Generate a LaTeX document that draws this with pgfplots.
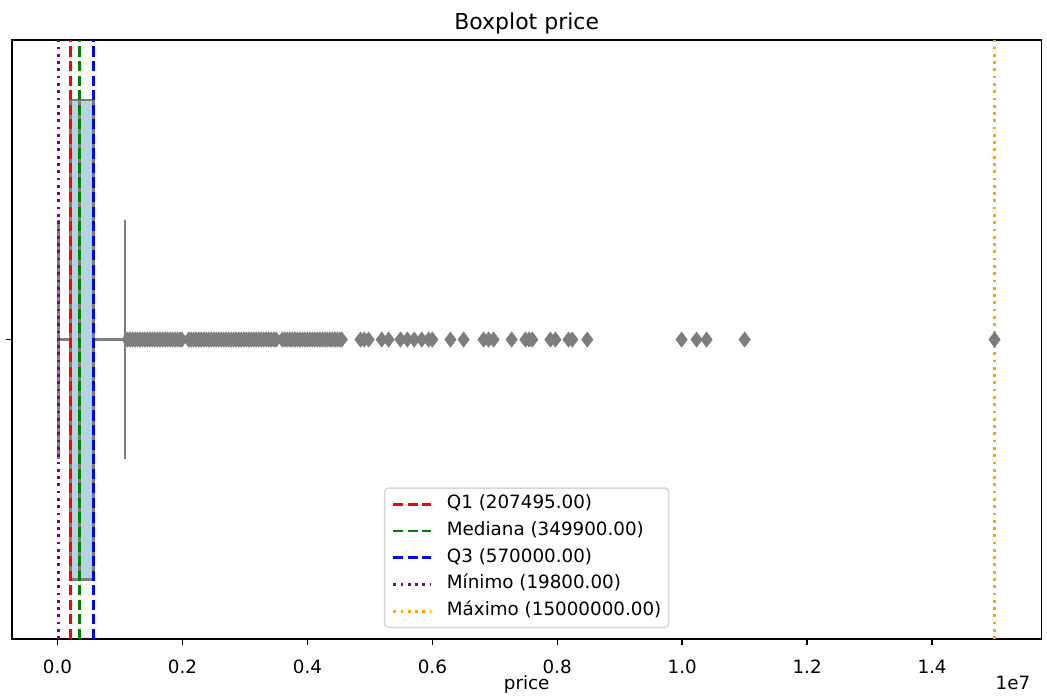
\documentclass[border=0pt]{standalone}
\usepackage{fontspec}
\setmainfont{DejaVu Sans}
\usepackage{pgfplots}
\pgfplotsset{compat=1.18}
\definecolor{boxfill}{RGB}{180,212,223}
\definecolor{boxgray}{RGB}{125,125,125}
\definecolor{mplpurple}{RGB}{128,0,128}
\definecolor{mplgreen}{RGB}{0,128,0}
\definecolor{mplorange}{RGB}{255,165,0}
\definecolor{legframe}{RGB}{214,214,214}
\begin{document}
\begin{tikzpicture}
\begin{axis}[
  name=ax,
  at={(0,0)}, anchor=south west,
  scale only axis, width=562pt, height=327pt,
  xmin=-0.72921, xmax=15.74901, ymin=-0.5, ymax=0.5,
  xtick={0,2,4,6,8,10,12,14},
  xticklabels={0.0,0.2,0.4,0.6,0.8,1.0,1.2,1.4},
  ytick={0}, yticklabels={},
  tick align=outside, tick pos=left,
  major tick length=3.5pt,
  every tick/.style={black, line width=0.8pt},
  axis line style={line width=0.8pt},
  font=\fontsize{10}{12}\selectfont,
  xticklabel style={anchor=base, yshift=-15.1pt, font=\fontsize{10}{12}\selectfont},
  title={Boxplot price},
  every axis title/.style={at={(0.5,1)}, anchor=base, yshift=6pt, font=\fontsize{12}{14}\selectfont},
  xlabel={price},
  every axis x label/.style={at={(0.5,0)}, anchor=base, yshift=-27.3pt, font=\fontsize{10}{12}\selectfont},
  legend cell align=left,
  legend image code/.code={\draw[#1] (0pt,0pt) -- (20.8pt,0pt);},
  legend style={at={(0.5,0.0184)}, anchor=south, draw=legframe, line width=0.8pt,
    rounded corners=2pt, fill=white, fill opacity=0.8, text opacity=1, draw opacity=1,
    font=\fontsize{10}{12}\selectfont,
    nodes={inner sep=0pt, text height=7.5pt, text depth=2.5pt},
    row sep=4.6pt, column sep=7.7pt, inner xsep=4pt, inner ysep=3.8pt},
]
% box
\addplot[draw=boxgray, fill=boxfill, line width=1.5pt, forget plot]
  coordinates {(0.207495,-0.4) (0.570000,-0.4) (0.570000,0.4) (0.207495,0.4)} --cycle;
% median
\addplot[boxgray, line width=1.5pt, forget plot] coordinates {(0.3499,-0.4) (0.3499,0.4)};
% whiskers
\addplot[boxgray, line width=1.5pt, forget plot] coordinates {(0.0198,0) (0.207495,0)};
\addplot[boxgray, line width=1.5pt, forget plot] coordinates {(0.570000,0) (1.08,0)};
% caps
\addplot[boxgray, line width=1.5pt, forget plot] coordinates {(0.0198,-0.2) (0.0198,0.2)};
\addplot[boxgray, line width=1.5pt, forget plot] coordinates {(1.08,-0.2) (1.08,0.2)};
% outliers (values in units of 1e6)
\addplot[only marks, mark=diamond*, mark size=4pt, color=boxgray,
  mark options={line width=0.5pt}, forget plot] coordinates {
(1.12,0)(1.16,0)(1.20,0)(1.24,0)(1.28,0)(1.32,0)(1.36,0)(1.40,0)(1.44,0)(1.48,0)
(1.52,0)(1.56,0)(1.60,0)(1.64,0)(1.68,0)(1.72,0)(1.76,0)(1.80,0)(1.84,0)(1.88,0)
(1.92,0)(1.96,0)(1.99,0)(2.10,0)(2.14,0)(2.18,0)(2.22,0)(2.26,0)(2.30,0)(2.34,0)
(2.38,0)(2.42,0)(2.46,0)(2.50,0)(2.54,0)(2.58,0)(2.62,0)(2.66,0)(2.70,0)(2.74,0)
(2.78,0)(2.82,0)(2.86,0)(2.90,0)(2.94,0)(2.98,0)(3.02,0)(3.06,0)(3.10,0)(3.14,0)
(3.18,0)(3.22,0)(3.26,0)(3.30,0)(3.34,0)(3.38,0)(3.42,0)(3.46,0)(3.50,0)(3.60,0)
(3.64,0)(3.68,0)(3.72,0)(3.76,0)(3.80,0)(3.84,0)(3.88,0)(3.92,0)(3.96,0)(4.00,0)
(4.04,0)(4.08,0)(4.12,0)(4.16,0)(4.20,0)(4.24,0)(4.28,0)(4.32,0)(4.36,0)(4.40,0)
(4.44,0)(4.48,0)(4.52,0)(4.55,0)
(4.85,0)(4.91,0)(4.98,0)(5.19,0)(5.30,0)(5.49,0)(5.60,0)(5.71,0)(5.83,0)(5.94,0)
(6.00,0)(6.29,0)(6.50,0)(6.82,0)(6.90,0)(6.98,0)(7.27,0)(7.49,0)(7.55,0)(7.60,0)
(7.89,0)(7.97,0)(8.18,0)(8.24,0)(8.48,0)(9.99,0)(10.23,0)(10.39,0)(11.00,0)(15.00,0)
};
% reference lines
\addplot[red, line width=1.5pt, dash pattern=on 5.55pt off 2.4pt] coordinates {(0.207495,-0.5) (0.207495,0.5)};
\addlegendentry{Q1 (207495.00)}
\addplot[mplgreen, line width=1.5pt, dash pattern=on 5.55pt off 2.4pt] coordinates {(0.3499,-0.5) (0.3499,0.5)};
\addlegendentry{Mediana (349900.00)}
\addplot[blue, line width=1.5pt, dash pattern=on 5.55pt off 2.4pt] coordinates {(0.57,-0.5) (0.57,0.5)};
\addlegendentry{Q3 (570000.00)}
\addplot[mplpurple, line width=1.5pt, dash pattern=on 1.5pt off 2.475pt] coordinates {(0.0198,-0.5) (0.0198,0.5)};
\addlegendentry{Mínimo (19800.00)}
\addplot[mplorange, line width=1.5pt, dash pattern=on 1.5pt off 2.475pt] coordinates {(15.0,-0.5) (15.0,0.5)};
\addlegendentry{Máximo (15000000.00)}
\end{axis}
\node[anchor=base east, font=\fontsize{10}{12}\selectfont] at ([yshift=-27.3pt, xshift=-2.5pt]ax.south east) {1e7};
\pgfresetboundingbox
\path[use as bounding box] (-6.55pt,-31.7pt) rectangle (565.1pt,348.9pt);
\end{tikzpicture}
\end{document}
